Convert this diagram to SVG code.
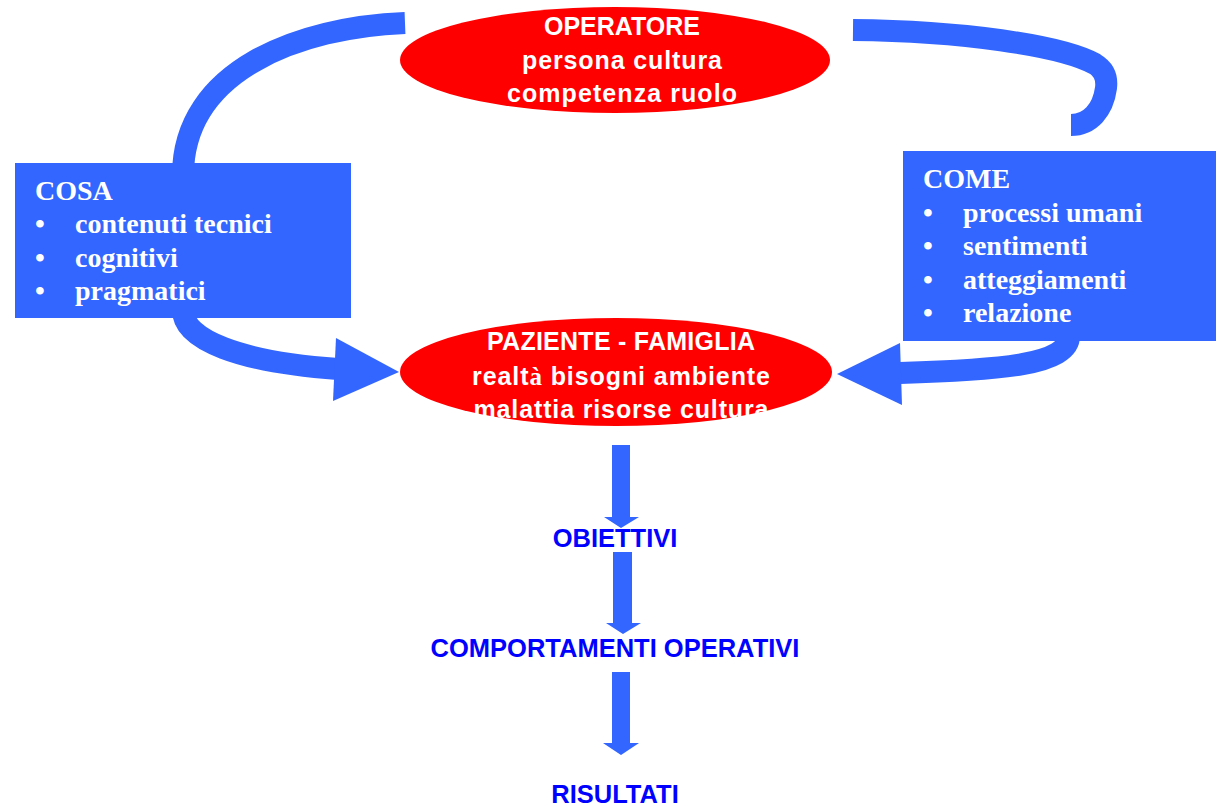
<svg xmlns="http://www.w3.org/2000/svg" width="1216" height="808" viewBox="0 0 1216 808">
<style>
.conn{fill:none;stroke:#3366FF;stroke-width:22;stroke-linecap:butt;stroke-linejoin:round}
.head{fill:#3366FF}
.box{fill:#3366FF}
.ell{fill:#FF0000}
.et{font-family:"Liberation Sans",Arial,sans-serif;font-weight:bold;font-size:25px;fill:#FFFFFF;text-anchor:middle}
.bt{font-family:"Liberation Serif","Times New Roman",serif;font-weight:bold;font-size:28px;fill:#FFFFFF}
.lbl{font-family:"Liberation Sans",Arial,sans-serif;font-weight:bold;font-size:25.5px;fill:#0000FF;text-anchor:middle}
</style>
<rect width="1216" height="808" fill="#FFFFFF"/>
<g id="connectors">
<path class="conn" d="M405,23 C300,27 183,70 183,175"/>
<path class="conn" d="M853,30 C960,31 1060,45 1095,64 Q1108,72 1106,88 C1103,110 1090,125 1071,125"/>
<path class="conn" d="M183,310 C183,340 240,362 338,369"/>
<polygon class="head" points="336,338 399,372 333,401"/>
<path class="conn" d="M1069,335 C1070,365 1000,370 900,373"/>
<polygon class="head" points="900,343 837,374 902,405"/>
<polygon class="head" points="612,445 630,445 630,517 639,517 621,528 604,517 612,517"/>
<polygon class="head" points="613,552 632,552 632,623 641,623 623,634 606,623 613,623"/>
<polygon class="head" points="612,672 630,672 630,743 639,743 621,755 603,743 612,743"/>
</g>
<g id="operatore">
<ellipse class="ell" cx="615" cy="60" rx="215" ry="53"/>
<text class="et" x="622" y="35" textLength="156" lengthAdjust="spacing">OPERATORE</text>
<text class="et" x="622" y="69" textLength="200" lengthAdjust="spacing">persona cultura</text>
<text class="et" x="622" y="102" textLength="230" lengthAdjust="spacing">competenza ruolo</text>
</g>
<g id="paziente">
<ellipse class="ell" cx="616" cy="372" rx="216" ry="54"/>
<text class="et" x="621" y="350" textLength="268" lengthAdjust="spacing">PAZIENTE - FAMIGLIA</text>
<text class="et" x="621" y="385" textLength="298" lengthAdjust="spacing">realt<tspan font-family="Liberation Serif, serif">à</tspan> bisogni ambiente</text>
<text class="et" x="621" y="418" textLength="295" lengthAdjust="spacing">malattia risorse cultura</text>
</g>
<g id="cosa">
<rect class="box" x="15" y="163" width="336" height="155"/>
<text class="bt" x="35" y="200">COSA</text>
<text class="bt" x="35" y="233">•</text><text class="bt" x="75" y="233">contenuti tecnici</text>
<text class="bt" x="35" y="267">•</text><text class="bt" x="75" y="267">cognitivi</text>
<text class="bt" x="35" y="300">•</text><text class="bt" x="75" y="300">pragmatici</text>
</g>
<g id="come">
<rect class="box" x="903" y="151" width="313" height="190"/>
<text class="bt" x="923" y="188">COME</text>
<text class="bt" x="923" y="222">•</text><text class="bt" x="963" y="222">processi umani</text>
<text class="bt" x="923" y="255">•</text><text class="bt" x="963" y="255">sentimenti</text>
<text class="bt" x="923" y="289">•</text><text class="bt" x="963" y="289">atteggiamenti</text>
<text class="bt" x="923" y="322">•</text><text class="bt" x="963" y="322">relazione</text>
</g>
<g id="obiettivi">
<text class="lbl" x="615" y="547">OBIETTIVI</text>
</g>
<g id="comportamenti">
<text class="lbl" x="615" y="657">COMPORTAMENTI OPERATIVI</text>
</g>
<g id="risultati">
<text class="lbl" x="615" y="803">RISULTATI</text>
</g>
</svg>
